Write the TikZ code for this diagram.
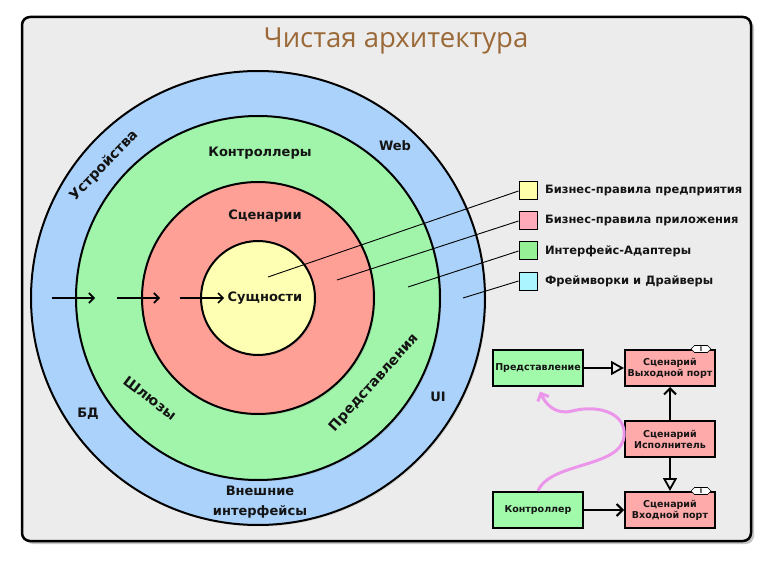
\documentclass[tikz,border=0pt]{standalone}
\usepackage{fontspec}
\setmainfont{DejaVu Sans}
\newfontfamily\titlefont{Open Sans}
\usepackage{xcolor}
\usetikzlibrary{positioning,arrows.meta,shapes.symbols,shadows}
\definecolor{framegrey}{RGB}{236,236,236}
\definecolor{titlebrown}{RGB}{155,105,55}
\definecolor{ringblue}{RGB}{170,210,250}
\definecolor{ringgreen}{RGB}{160,245,170}
\definecolor{ringred}{RGB}{255,160,150}
\definecolor{ringyellow}{RGB}{255,255,180}
\definecolor{keyyellow}{RGB}{255,255,170}
\definecolor{keypink}{RGB}{255,170,185}
\definecolor{keygreen}{RGB}{150,240,150}
\definecolor{keycyan}{RGB}{170,245,255}
\definecolor{boxgreen}{RGB}{160,250,170}
\definecolor{boxpink}{RGB}{255,170,170}
\definecolor{flowpink}{RGB}{235,150,235}
\definecolor{inktext}{RGB}{20,20,20}

\begin{document}
\begin{tikzpicture}[
    x=1pt, y=-1pt,
    every node/.style={align=center, text=inktext},
    board/.style={rectangle, rounded corners=8pt, draw=black, line width=2.5pt, fill=framegrey, drop shadow={opacity=0.45, shadow xshift=3pt, shadow yshift=-3pt}},
    ring/.style={circle, draw=black, line width=2pt, inner sep=0pt, drop shadow={opacity=0.2, shadow xshift=1.5pt, shadow yshift=-1.5pt}},
    lbl/.style={font=\bfseries\fontsize{13}{15}\selectfont},
    arclbl/.style={font=\bfseries\fontsize{14}{16}\selectfont},
    keybox/.style={rectangle, draw=black, line width=1pt, minimum size=18pt, inner sep=0pt},
    keytext/.style={font=\bfseries\fontsize{11.5}{14}\selectfont, anchor=west},
    leader/.style={draw=black, line width=0.9pt},
    flowarrow/.style={line width=1.6pt, -{Straight Barb[length=5pt,width=10pt]}},
    smallbox/.style={rectangle, draw=black, line width=2pt, minimum width=90pt, minimum height=36pt, inner sep=1pt, font=\bfseries\fontsize{9.5}{11}\selectfont},
    itag/.style={signal, signal to=east and west, draw=black, line width=0.6pt, fill=white, inner sep=0.5pt, minimum width=20pt, minimum height=7pt, font=\bfseries\fontsize{6.5}{6.5}\selectfont},
    uses/.style={line width=2pt, -{Straight Barb[length=6pt,width=12pt]}},
    realize/.style={line width=2pt, -{Triangle[open,length=13pt,width=14pt,line width=1.8pt]}},
    flow/.style={draw=flowpink, line width=3pt, -{Straight Barb[length=6pt,width=12pt]}}
]
\useasboundingbox (0,0) rectangle (772,567);

% Frame and title
\node[board, minimum width=729pt, minimum height=524pt] (board) at (386.5,279) {};
\node[font=\titlefont\fontsize{27.5}{29}\selectfont, text=titlebrown] (title) at (396,41) {Чистая архитектура};

% Rings
\coordinate (core) at (258,298);
\node[ring, fill=ringblue, minimum size=454pt] (outer) at (core) {};
\node[ring, fill=ringgreen, minimum size=364pt] (adapters) at (core) {};
\node[ring, fill=ringred, minimum size=232pt] (usecases) at (core) {};
\node[ring, fill=ringyellow, minimum size=114pt] (entities) at (core) {};

% Ring labels
\node[lbl] (ent) at (265,298) {Сущности};
\node[lbl] (scen) at (265,216) {Сценарии};
\node[lbl] (ctrls) at (260,153) {Контроллеры};
\node[lbl] (web) at (395,146) {Web};
\node[arclbl, rotate=46] (devices) at (104,166) {Устройства};
\node[arclbl, rotate=-37] (gateways) at (150,398) {Шлюзы};
\node[arclbl, rotate=48] (presenters) at (374,383) {Представления};
\node[lbl] (db) at (88,414) {БД};
\node[lbl] (ui) at (438,397) {UI};
\node[font=\bfseries\fontsize{13}{20}\selectfont] (external) at (260,502) {Внешние\\интерфейсы};

% Dependency arrows
\coordinate (a1s) at (52,298);
\coordinate (a1e) at (95,298);
\coordinate (a2s) at (117,298);
\coordinate (a2e) at (160,298);
\coordinate (a3s) at (180,298);
\draw[flowarrow] (a1s) -- (a1e);
\draw[flowarrow] (a2s) -- (a2e);
\draw[flowarrow] (a3s) -- (ent.west);

% Legend
\node[keybox, fill=keyyellow] (k1) at (528,191) {};
\node[keybox, fill=keypink, below=11pt of k1] (k2) {};
\node[keybox, fill=keygreen, below=11pt of k2] (k3) {};
\node[keybox, fill=keycyan, below=11pt of k3] (k4) {};
\node[keytext, right=4pt of k1] (t1) {Бизнес-правила предприятия};
\node[keytext, right=4pt of k2] (t2) {Бизнес-правила приложения};
\node[keytext, right=4pt of k3] (t3) {Интерфейс-Адаптеры};
\node[keytext, right=4pt of k4] (t4) {Фреймворки и Драйверы};

\coordinate (p1) at (268,277);
\coordinate (p2) at (337,280);
\coordinate (p3) at (408,287);
\coordinate (p4) at (463,298);
\draw[leader] (k1.west) -- (p1);
\draw[leader] (k2.west) -- (p2);
\draw[leader] (k3.west) -- (p3);
\draw[leader] (k4.west) -- (p4);

% Flow of control
\node[smallbox, fill=boxgreen] (view) at (538,368) {Представление};
\node[smallbox, fill=boxpink, right=40pt of view] (outport) {Сценарий\\Выходной порт};
\node[smallbox, fill=boxpink, below=33pt of outport] (interactor) {Сценарий\\Исполнитель};
\node[smallbox, fill=boxpink, below=33pt of interactor] (inport) {Сценарий\\Входной порт};
\node[smallbox, fill=boxgreen, left=40pt of inport] (ctrl) {Контроллер};
\node[itag] (outtag) at ([xshift=-15pt]outport.north east) {I};
\node[itag] (intag) at ([xshift=-15pt]inport.north east) {I};

\draw[realize] (view) -- (outport);
\draw[uses] (interactor) -- (outport);
\draw[realize] (interactor) -- (inport);
\draw[uses] (ctrl) -- (inport);
\draw[flow, shorten >=5pt] (ctrl.north) .. controls (550,462) and (620,468) .. (624,437)
    .. controls (627,414) and (600,404) .. (572,411)
    .. controls (556,415) and (546,405) .. (view.south);

\end{tikzpicture}
\end{document}
